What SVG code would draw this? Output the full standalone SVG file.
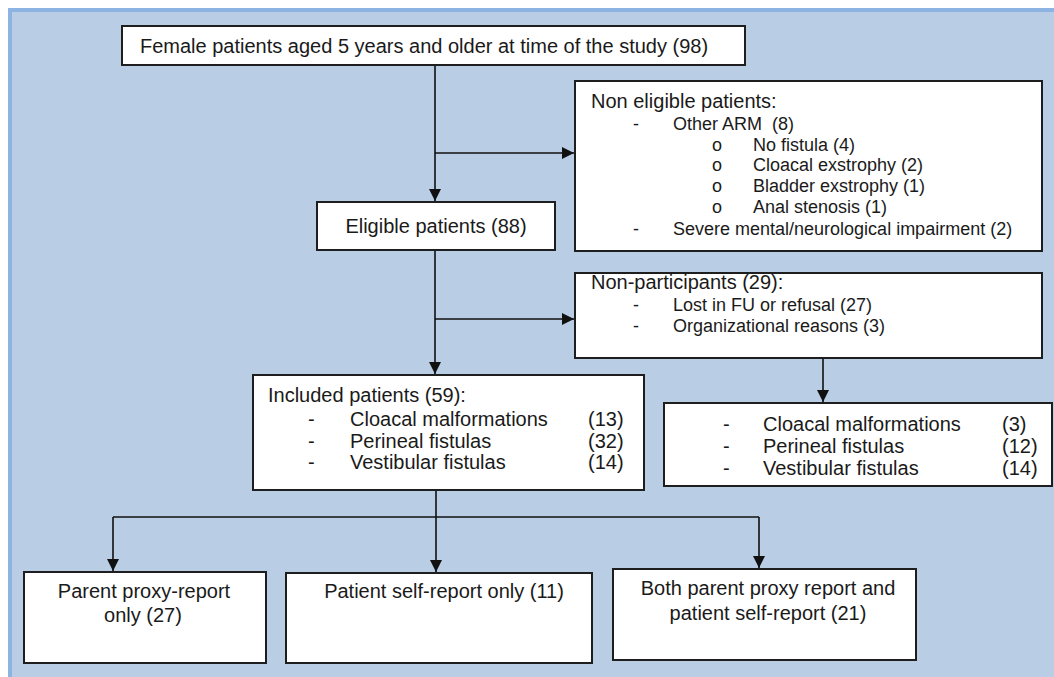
<svg xmlns="http://www.w3.org/2000/svg" width="1054" height="677" viewBox="0 0 1054 677">
<style>
.box{fill:#ffffff;stroke:#1e1e1e;stroke-width:2}
.t{font-family:"Liberation Sans",Arial,sans-serif;font-size:20px;fill:#1a1a1a}
.s{font-family:"Liberation Sans",Arial,sans-serif;font-size:18px;fill:#1a1a1a}
.c{text-anchor:middle}
.ln{fill:none;stroke:#111;stroke-width:1.6}
</style>
<defs>
<marker id="ah" viewBox="0 0 12 12" refX="12" refY="6" markerWidth="12" markerHeight="12" markerUnits="userSpaceOnUse" orient="auto">
<path d="M0,0 L12,6 L0,12 Z" fill="#111"/>
</marker>
</defs>
<rect x="0" y="0" width="1054" height="677" fill="#ffffff"/>
<rect x="8" y="8" width="1046" height="669" fill="#8db3e2"/>
<rect x="12" y="12" width="1042" height="665" fill="#b9cde5"/>

<g id="connectors">
<path class="ln" d="M435,65 V201" marker-end="url(#ah)"/>
<path class="ln" d="M435,153 H574" marker-end="url(#ah)"/>
<path class="ln" d="M435,251 V374" marker-end="url(#ah)"/>
<path class="ln" d="M435,319 H574" marker-end="url(#ah)"/>
<path class="ln" d="M823,358 V402" marker-end="url(#ah)"/>
<path class="ln" d="M436,490 V572" marker-end="url(#ah)"/>
<path class="ln" d="M113,517 H759"/>
<path class="ln" d="M113,517 V571" marker-end="url(#ah)"/>
<path class="ln" d="M759,517 V568" marker-end="url(#ah)"/>
</g>

<g id="n-total">
<rect class="box" x="122" y="26" width="623" height="39"/>
<text class="t" x="140" y="53">Female patients aged 5 years and older at time of the study (98)</text>
</g>

<g id="n-noneligible">
<rect class="box" x="575" y="81" width="467" height="170"/>
<text class="t" x="591" y="108">Non eligible patients:</text>
<text class="s" x="633" y="130">-</text>
<text class="s" x="673" y="130">Other ARM&#160; (8)</text>
<text class="s" x="712" y="151">o</text>
<text class="s" x="753" y="151">No fistula (4)</text>
<text class="s" x="712" y="171">o</text>
<text class="s" x="753" y="171">Cloacal exstrophy (2)</text>
<text class="s" x="712" y="192">o</text>
<text class="s" x="753" y="192">Bladder exstrophy (1)</text>
<text class="s" x="712" y="213">o</text>
<text class="s" x="753" y="213">Anal stenosis (1)</text>
<text class="s" x="633" y="235">-</text>
<text class="s" x="673" y="235">Severe mental/neurological impairment (2)</text>
</g>

<g id="n-eligible">
<rect class="box" x="317" y="202" width="238" height="48"/>
<text class="t c" x="436" y="233">Eligible patients (88)</text>
</g>

<g id="n-nonparticipants">
<rect class="box" x="575" y="273" width="467" height="85"/>
<text class="t" x="591" y="289">Non-participants (29):</text>
<text class="s" x="633" y="311">-</text>
<text class="s" x="673" y="311">Lost in FU or refusal (27)</text>
<text class="s" x="633" y="332">-</text>
<text class="s" x="673" y="332">Organizational reasons (3)</text>
</g>

<g id="n-included">
<rect class="box" x="253" y="375" width="391" height="115"/>
<text class="t" x="268" y="402">Included patients (59):</text>
<text class="t" x="308" y="426">-</text>
<text class="t" x="350" y="426">Cloacal malformations</text>
<text class="t" x="588" y="426">(13)</text>
<text class="t" x="308" y="448">-</text>
<text class="t" x="350" y="448">Perineal fistulas</text>
<text class="t" x="588" y="448">(32)</text>
<text class="t" x="308" y="469">-</text>
<text class="t" x="350" y="469">Vestibular fistulas</text>
<text class="t" x="588" y="469">(14)</text>
</g>

<g id="n-nonpart-breakdown">
<rect class="box" x="664" y="403" width="388" height="83"/>
<text class="t" x="723" y="431">-</text>
<text class="t" x="763" y="431">Cloacal malformations</text>
<text class="t" x="1002" y="431">(3)</text>
<text class="t" x="723" y="453">-</text>
<text class="t" x="763" y="453">Perineal fistulas</text>
<text class="t" x="1002" y="453">(12)</text>
<text class="t" x="723" y="475">-</text>
<text class="t" x="763" y="475">Vestibular fistulas</text>
<text class="t" x="1002" y="475">(14)</text>
</g>

<g id="n-parent">
<rect class="box" x="24" y="572" width="242" height="91"/>
<text class="t c" x="144" y="598">Parent proxy-report</text>
<text class="t c" x="143" y="622">only (27)</text>
</g>

<g id="n-self">
<rect class="box" x="286" y="573" width="306" height="90"/>
<text class="t c" x="444" y="598">Patient self-report only (11)</text>
</g>

<g id="n-both">
<rect class="box" x="613" y="569" width="303" height="91"/>
<text class="t c" x="768" y="595">Both parent proxy report and</text>
<text class="t c" x="768" y="620">patient self-report (21)</text>
</g>
</svg>
